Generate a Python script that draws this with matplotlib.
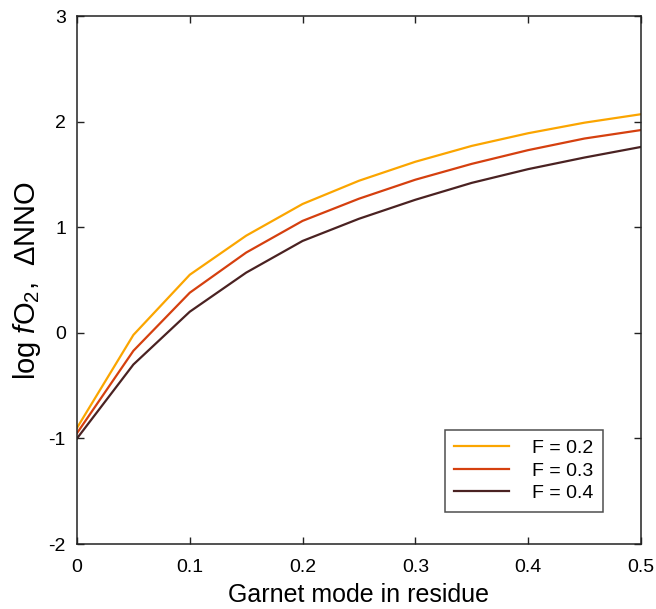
import matplotlib
matplotlib.use("Agg")
import matplotlib.pyplot as plt

plt.rcParams['font.family'] = ['Liberation Sans', 'DejaVu Sans']
plt.rcParams['mathtext.fontset'] = 'custom'
plt.rcParams['mathtext.rm'] = 'Liberation Sans'
plt.rcParams['mathtext.it'] = 'Liberation Sans:italic'

# Garnet mode in the residue
garnet_mode = [0.0, 0.05, 0.10, 0.15, 0.20, 0.25, 0.30, 0.35, 0.40, 0.45, 0.50]

# log fO2 relative to NNO for each melt fraction F
fo2_F02 = [-0.90, -0.02, 0.55, 0.92, 1.22, 1.44, 1.62, 1.77, 1.89, 1.99, 2.07]
fo2_F03 = [-0.95, -0.17, 0.38, 0.76, 1.06, 1.27, 1.45, 1.60, 1.73, 1.84, 1.92]
fo2_F04 = [-1.00, -0.30, 0.20, 0.57, 0.87, 1.08, 1.26, 1.42, 1.55, 1.66, 1.76]

series_labels = ['F = 0.2', 'F = 0.3', 'F = 0.4']
series_colors = ['#FBA500', '#D5400F', '#4A2222']

fig = plt.figure(figsize=(6.56, 6.09), dpi=100)
ax = fig.add_axes([0.1174, 0.1067, 0.8596, 0.867])

for vals, lab, col in zip([fo2_F02, fo2_F03, fo2_F04], series_labels, series_colors):
    ax.plot(garnet_mode, vals, color=col, lw=1.6, label=lab)

ax.set_xlim(0, 0.5)
ax.set_ylim(-2, 3)
ax.set_xticks([0, 0.1, 0.2, 0.3, 0.4, 0.5])
ax.set_xticklabels(['0', '0.1', '0.2', '0.3', '0.4', '0.5'])
ax.set_yticks([-2, -1, 0, 1, 2, 3])
ax.set_yticklabels(['-2', '-1', '0', '1', '2', '3'])
ax.tick_params(direction='in', length=5, width=1, top=True, right=True,
               labelsize=14, color='#222222')
ax.tick_params(axis='x', pad=11)
ax.tick_params(axis='y', pad=8)
for sp in ax.spines.values():
    sp.set_linewidth(1.1)
    sp.set_color('#222222')

ax.set_xlabel('Garnet mode in residue', fontsize=18, labelpad=5)
ax.set_ylabel(r'log $\mathit{f}$O$_2$,  ΔNNO', fontsize=21, labelpad=4)

leg = ax.legend(loc='lower right', bbox_to_anchor=(0.933, 0.061), fontsize=14,
                frameon=True, fancybox=False, edgecolor='#222222',
                handlelength=2.8, borderpad=0.5, labelspacing=0.25,
                handletextpad=1.2, borderaxespad=0.0)
leg.get_frame().set_linewidth(1.1)

fig.savefig('out.png', dpi=100)
